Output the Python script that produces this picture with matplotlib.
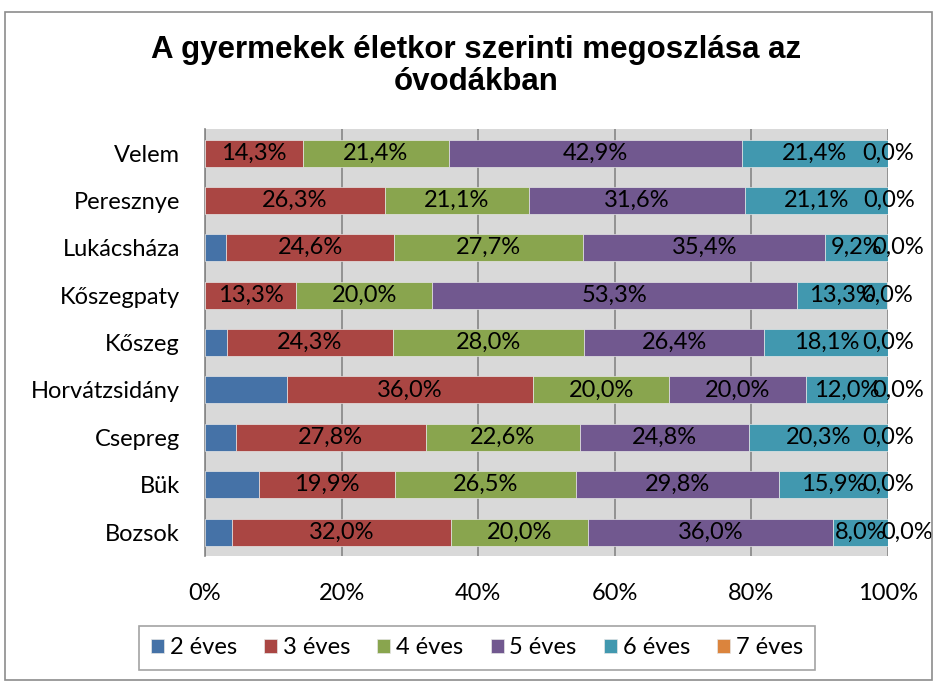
import numpy as np
import matplotlib
matplotlib.use("Agg")
import matplotlib.pyplot as plt
import matplotlib.ticker as mticker
from matplotlib.patches import Rectangle

# Data (bottom to top, as drawn)
places = ["Bozsok", "Bük", "Csepreg", "Horvátzsidány", "Kőszeg",
          "Kőszegpaty", "Lukácsháza", "Peresznye", "Velem"]
age_2 = [4.0, 7.9, 4.5, 12.0, 3.2, 0.0, 3.1, 0.0, 0.0]
age_3 = [32.0, 19.9, 27.8, 36.0, 24.3, 13.3, 24.6, 26.3, 14.3]
age_4 = [20.0, 26.5, 22.6, 20.0, 28.0, 20.0, 27.7, 21.1, 21.4]
age_5 = [36.0, 29.8, 24.8, 20.0, 26.4, 53.3, 35.4, 31.6, 42.9]
age_6 = [8.0, 15.9, 20.3, 12.0, 18.1, 13.3, 9.2, 21.1, 21.4]
age_7 = [0.0, 0.0, 0.0, 0.0, 0.0, 0.0, 0.0, 0.0, 0.0]
series_names = ["2 éves", "3 éves", "4 éves", "5 éves", "6 éves", "7 éves"]
x_ticks = [0, 20, 40, 60, 80, 100]

COLORS = ["#4572a7", "#aa4643", "#89a54e", "#71588f", "#4198af", "#db843d"]
FONT = ["Lato", "DejaVu Sans"]
FS = 17

plt.rcParams["font.family"] = FONT

fig = plt.figure(figsize=(9.34, 6.81), dpi=100)
fig.patch.set_facecolor("white")
ax = fig.add_axes([0.2195, 0.184, 0.7313, 0.626])
ax.set_facecolor("#d9d9d9")

# outer chart border
fig.patches.append(Rectangle((5 / 934, 0.002), 927 / 934, 1 - 12 / 681 - 0.002,
                             transform=fig.transFigure, fill=False,
                             edgecolor="#8c8c8c", linewidth=1.2))

y = np.arange(len(places))
left = np.zeros(len(places))
all_series = [age_2, age_3, age_4, age_5, age_6, age_7]

for k, (name, vals) in enumerate(zip(series_names, all_series)):
    vals = np.array(vals)
    ax.barh(y, vals, left=left, height=0.57, color=COLORS[k], label=name,
            edgecolor="#e6e6e6", linewidth=0.5, zorder=3)
    if k > 0:
        for i, v in enumerate(vals):
            # nudge the last (zero) label right when the previous one is short
            dx = 0
            if k == 5:
                prev = all_series[4][i]
                dx = 14 if prev < 8.5 else (7 if prev < 12.5 else 0)
            ax.annotate(f"{v:.1f}%".replace(".", ","), (left[i] + v / 2, y[i]),
                        xytext=(dx, 0), textcoords="offset points",
                        ha="center", va="center", fontsize=FS, color="black",
                        zorder=5, annotation_clip=False)
    left += vals

ax.set_xlim(0, 100)
ax.set_ylim(-0.5, len(places) - 0.5)
ax.set_xticks(x_ticks)
ax.xaxis.set_major_formatter(mticker.FuncFormatter(lambda v, p: f"{v:.0f}%"))
ax.set_yticks(y)
ax.set_yticklabels(places)
ax.tick_params(axis="y", length=0, labelsize=FS, pad=18)
ax.tick_params(axis="x", length=0, labelsize=FS, pad=20)

ax.xaxis.grid(True, color="#868686", linewidth=1.2, zorder=1)
ax.set_axisbelow(True)
for s in ["top", "right", "bottom"]:
    ax.spines[s].set_visible(False)
ax.spines["left"].set_color("#868686")
ax.spines["left"].set_linewidth(1.2)

fig.text(0.51, 1 - 66 / 681, "A gyermekek életkor szerinti megoszlása az\nóvodákban",
         ha="center", va="center", fontsize=22.5, fontweight="bold",
         family=["Liberation Sans", "DejaVu Sans"], linespacing=1.1)

leg = fig.legend(loc="center", bbox_to_anchor=(477 / 934, 1 - 648 / 681), ncol=6,
                 fontsize=FS, frameon=True, fancybox=False, edgecolor="#8c8c8c",
                 handlelength=0.55, handleheight=0.55, handletextpad=0.25,
                 columnspacing=1.15, borderpad=0.5, borderaxespad=0)
leg.get_frame().set_linewidth(1.2)

fig.savefig("out.png", dpi=100, facecolor="white")
